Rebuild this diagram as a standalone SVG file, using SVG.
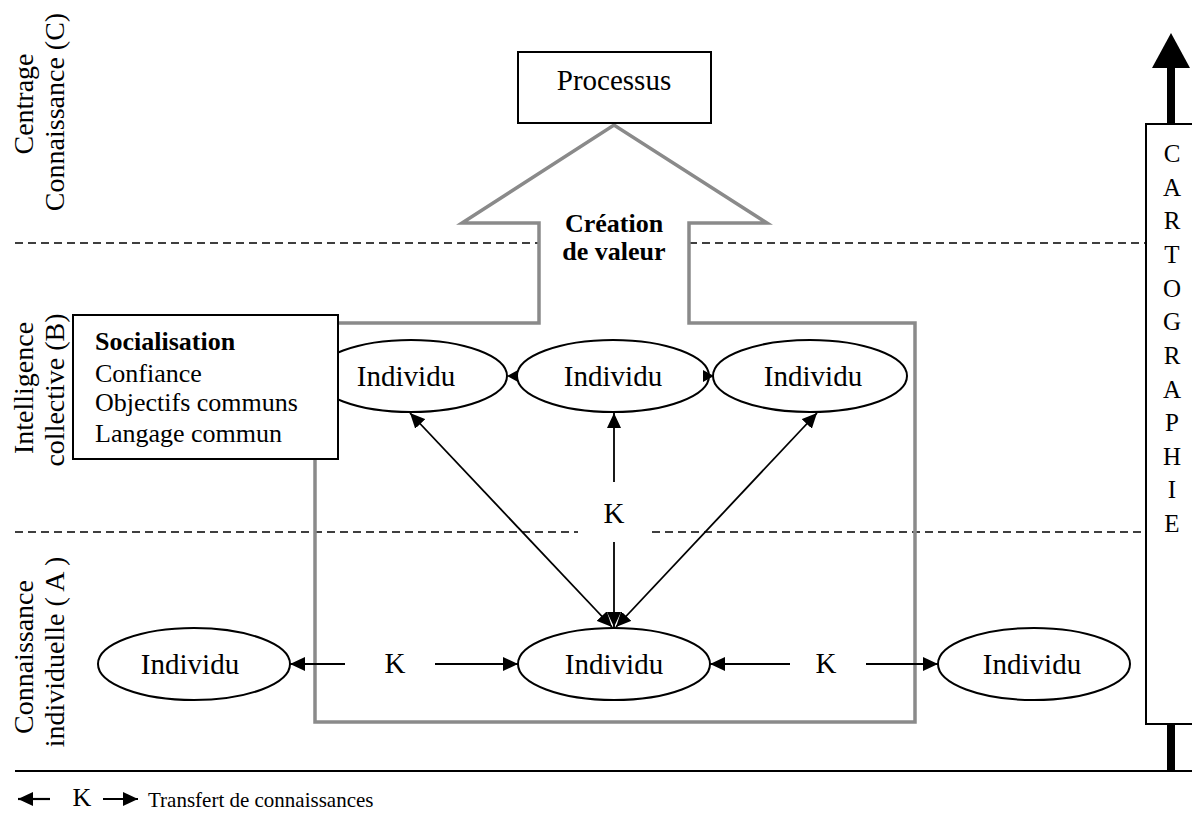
<svg xmlns="http://www.w3.org/2000/svg" width="1192" height="838" viewBox="0 0 1192 838">
  <style>
    text { font-family: "Liberation Serif", "Times New Roman", serif; fill: #000; }
    .lbl { font-size: 28px; }
    .node { font-size: 29px; }
    .box { font-size: 26px; }
    .dash { stroke: #000; stroke-width: 1.5; stroke-dasharray: 8 5; fill: none; }
    .conn { stroke: #000; stroke-width: 1.8; fill: none; }
    .ell { fill: #fff; stroke: #000; stroke-width: 2; }
    .rect { fill: #fff; stroke: #000; stroke-width: 2; }
    .cut { fill: #fff; stroke: none; }
  </style>
  <defs>
    <marker id="ah" markerUnits="userSpaceOnUse" markerWidth="16" markerHeight="14" refX="15" refY="7" orient="auto-start-reverse">
      <path d="M0,0 L15,7 L0,14 z" fill="#000"/>
    </marker>
    <marker id="ahs" markerUnits="userSpaceOnUse" markerWidth="16" markerHeight="14" refX="15" refY="7" orient="auto-start-reverse">
      <path d="M0,0 L15,7 L0,14 z" fill="#000"/>
    </marker>
  </defs>
  <rect width="1192" height="838" fill="#fff"/>

  <!-- level labels -->
  <g id="levels">
    <text class="lbl" transform="translate(33,104) rotate(-90)" text-anchor="middle">Centrage</text>
    <text class="lbl" transform="translate(64,112) rotate(-90)" text-anchor="middle">Connaissance (C)</text>
    <text class="lbl" transform="translate(33,388) rotate(-90)" text-anchor="middle">Intelligence</text>
    <text class="lbl" transform="translate(64,390) rotate(-90)" text-anchor="middle">collective (B)</text>
    <text class="lbl" transform="translate(33,657) rotate(-90)" text-anchor="middle">Connaissance</text>
    <text class="lbl" transform="translate(64,652) rotate(-90)" text-anchor="middle">individuelle ( A )</text>
  </g>

  <!-- separators -->
  <g id="separators">
    <line class="dash" x1="15" y1="243" x2="539" y2="243"/>
    <line class="dash" x1="689" y1="243" x2="1146" y2="243"/>
    <line class="dash" x1="15" y1="532" x2="1146" y2="532"/>
    <line x1="15" y1="771" x2="1192" y2="771" stroke="#000" stroke-width="2"/>
  </g>

  <!-- big grey arrow / frame -->
  <g id="frame">
    <polygon points="315,323 539,323 539,223 462,223 614,125 767,223 689,223 689,323 915,323 915,722 315,722" fill="none" stroke="#8a8a8a" stroke-width="3.5"/>
    <text x="614" y="232" text-anchor="middle" font-size="26" font-weight="bold">Création</text>
    <text x="614" y="260" text-anchor="middle" font-size="26" font-weight="bold">de valeur</text>
  </g>

  <!-- connectors -->
  <g id="connectors">
    <line class="conn" x1="410" y1="413" x2="612" y2="627" marker-start="url(#ah)" marker-end="url(#ah)"/>
    <line class="conn" x1="614" y1="413" x2="614" y2="627" marker-start="url(#ah)" marker-end="url(#ah)"/>
    <line class="conn" x1="817" y1="413" x2="616" y2="627" marker-start="url(#ah)" marker-end="url(#ah)"/>
    <line class="conn" x1="290" y1="664" x2="518" y2="664" marker-start="url(#ah)" marker-end="url(#ah)"/>
    <line class="conn" x1="710" y1="664" x2="938" y2="664" marker-start="url(#ah)" marker-end="url(#ah)"/>
    <!-- K labels -->
    <rect class="cut" x="578" y="482" width="74" height="60"/>
    <text class="node" x="614" y="523" text-anchor="middle">K</text>
    <rect class="cut" x="345" y="648" width="90" height="32"/>
    <text class="node" x="395" y="673" text-anchor="middle">K</text>
    <rect class="cut" x="790" y="648" width="76" height="32"/>
    <text class="node" x="826" y="673" text-anchor="middle">K</text>
  </g>

  <!-- top row individuals -->
  <g id="ind-top-left">
    <ellipse class="ell" cx="411" cy="376" rx="96" ry="36"/>
    <text class="node" x="406" y="386" text-anchor="middle">Individu</text>
  </g>
  <g id="ind-top-mid">
    <ellipse class="ell" cx="613" cy="376" rx="96" ry="36"/>
    <text class="node" x="613" y="386" text-anchor="middle">Individu</text>
  </g>
  <g id="ind-top-right">
    <ellipse class="ell" cx="810" cy="376" rx="97" ry="36"/>
    <text class="node" x="813" y="386" text-anchor="middle">Individu</text>
  </g>
  <g id="top-heads">
    <polygon points="507,376 518,370 518,382" fill="#000"/>
    <polygon points="714,376 703,370 703,382" fill="#000"/>
  </g>

  <!-- bottom row individuals -->
  <g id="ind-bottom-left">
    <ellipse class="ell" cx="194" cy="664" rx="96" ry="36"/>
    <text class="node" x="190" y="674" text-anchor="middle">Individu</text>
  </g>
  <g id="ind-bottom-mid">
    <ellipse class="ell" cx="614" cy="664" rx="96" ry="36"/>
    <text class="node" x="614" y="674" text-anchor="middle">Individu</text>
  </g>
  <g id="ind-bottom-right">
    <ellipse class="ell" cx="1034" cy="664" rx="96" ry="36"/>
    <text class="node" x="1032" y="674" text-anchor="middle">Individu</text>
  </g>

  <!-- socialisation box -->
  <g id="socialisation">
    <rect class="rect" x="73" y="315" width="265" height="144"/>
    <text class="box" x="95" y="350" font-weight="bold">Socialisation</text>
    <text class="box" x="95" y="382">Confiance</text>
    <text class="box" x="95" y="411">Objectifs communs</text>
    <text class="box" x="95" y="442">Langage commun</text>
  </g>

  <!-- processus -->
  <g id="processus">
    <rect class="rect" x="518" y="52" width="193" height="71"/>
    <text class="node" x="614" y="90" text-anchor="middle">Processus</text>
  </g>

  <!-- cartographie -->
  <g id="cartographie">
    <rect x="1167" y="60" width="8" height="66" fill="#000"/>
    <polygon points="1171,33 1190,68 1152,68" fill="#000"/>
    <rect x="1167" y="722" width="8" height="49" fill="#000"/>
    <rect class="rect" x="1146" y="124" width="60" height="600"/>
    <g font-size="25" text-anchor="middle">
      <text x="1172" y="162">C</text>
      <text x="1172" y="196">A</text>
      <text x="1172" y="229">R</text>
      <text x="1172" y="263">T</text>
      <text x="1172" y="297">O</text>
      <text x="1172" y="330">G</text>
      <text x="1172" y="364">R</text>
      <text x="1172" y="398">A</text>
      <text x="1172" y="431">P</text>
      <text x="1172" y="465">H</text>
      <text x="1172" y="498">I</text>
      <text x="1172" y="532">E</text>
    </g>
  </g>

  <!-- legend -->
  <g id="legend">
    <line x1="50" y1="799" x2="18" y2="799" stroke="#000" stroke-width="2.2" marker-end="url(#ahs)"/>
    <text x="82" y="806" text-anchor="middle" font-size="26">K</text>
    <line x1="103" y1="799" x2="138" y2="799" stroke="#000" stroke-width="2.2" marker-end="url(#ahs)"/>
    <text x="148" y="807" font-size="21">Transfert de connaissances</text>
  </g>
</svg>
